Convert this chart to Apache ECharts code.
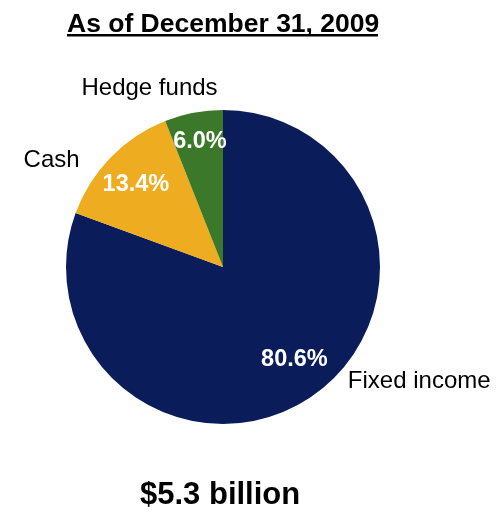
<!DOCTYPE html>
<html>
<head>
<meta charset="utf-8">
<script src="https://cdn.jsdelivr.net/npm/echarts@6/dist/echarts.min.js"></script>
<style>
  html, body { margin: 0; padding: 0; background: #ffffff; }
  #chart { width: 499px; height: 507px; }
</style>
</head>
<body>
<div id="chart"></div>
<script>
// Asset allocation, as of December 31, 2009
const categories = ['Fixed income', 'Cash', 'Hedge funds'];
const shares = [80.6, 13.4, 6.0];
const colors = ['#0a1d5a', '#eead20', '#3b782a'];
const titleText = 'As of December 31, 2009';
const totalText = '$5.3 billion';

// fine offsets for the category names and the percentage labels
const nameShift = [[35, -14], [-31, 3], [24, -24]];
const pctShift = [[1, -8], [1, 3], [0, -5]];

const FONT = '"Liberation Sans", Arial, Helvetica, sans-serif';
const cx = 223, cy = 267, R = 157;

const pieData = categories.map((name, i) => ({
  name,
  value: shares[i],
  itemStyle: { color: colors[i] }
}));

const chart = echarts.init(document.getElementById('chart'), null, { renderer: 'canvas' });

chart.setOption({
  animation: false,
  backgroundColor: '#ffffff',
  title: [
    {
      text: titleText,
      left: 62,
      top: 6,
      textStyle: { fontFamily: FONT, fontSize: 26.5, fontWeight: 'bold', color: '#000' }
    },
    {
      text: totalText,
      left: 135,
      top: 475,
      textStyle: { fontFamily: FONT, fontSize: 31, fontWeight: 'bold', color: '#000' }
    }
  ],
  graphic: [
    // underline beneath the heading
    { type: 'rect', shape: { x: 67, y: 34, width: 311, height: 2.5 }, style: { fill: '#000' }, silent: true }
  ],
  series: [
    {
      // slices with the category names outside
      type: 'pie',
      center: [cx, cy],
      radius: [0, R],
      startAngle: 90,
      clockwise: true,
      avoidLabelOverlap: false,
      silent: true,
      data: pieData,
      label: {
        show: true,
        position: 'outside',
        formatter: '{b}',
        fontFamily: FONT,
        fontSize: 24,
        color: '#000',
        distanceToLabelLine: 0
      },
      labelLine: { show: false, length: 0, length2: 0 },
      labelLayout: (p) => ({ dx: nameShift[p.dataIndex][0], dy: nameShift[p.dataIndex][1] })
    },
    {
      // transparent ring used only to place the percentage labels
      type: 'pie',
      center: [cx, cy],
      radius: [0, 240],
      startAngle: 90,
      clockwise: true,
      avoidLabelOverlap: false,
      silent: true,
      z: 3,
      data: categories.map((name, i) => ({ name, value: shares[i] })),
      itemStyle: { color: 'rgba(0,0,0,0)' },
      label: {
        show: true,
        position: 'inside',
        formatter: (p) => p.value.toFixed(1) + '%',
        fontFamily: FONT,
        fontSize: 23.5,
        fontWeight: 'bold',
        color: '#ffffff'
      },
      labelLine: { show: false },
      labelLayout: (p) => ({ dx: pctShift[p.dataIndex][0], dy: pctShift[p.dataIndex][1] })
    }
  ]
});
</script>
</body>
</html>
